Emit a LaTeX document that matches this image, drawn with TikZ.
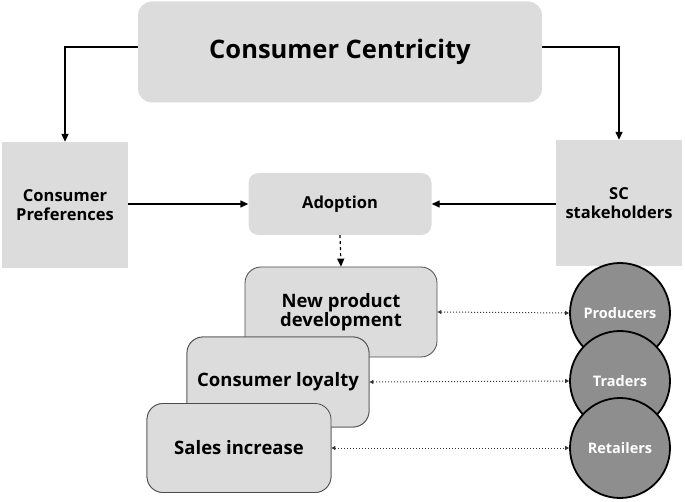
\documentclass[tikz,border=0pt]{standalone}
\usepackage{fontspec}
\setmainfont{Open Sans}
\usetikzlibrary{arrows.meta}
\definecolor{lg}{HTML}{DCDCDC}
\definecolor{cg}{HTML}{8E8E8E}
\begin{document}
\begin{tikzpicture}[x=1pt,y=-1pt,
  box/.style={fill=lg,draw=none,align=center,font=\bfseries\fontsize{16.5}{19}\selectfont,inner sep=0},
  rbox/.style={box,rounded corners=14pt},
  card/.style={fill=lg,draw=black!70,line width=0.8pt,rounded corners=16pt,align=center,inner sep=0,font=\bfseries\fontsize{18.5}{19}\selectfont},
  circ/.style={circle,fill=cg,draw=black,line width=1.8pt,minimum size=100pt,inner sep=0,text=white,font=\bfseries\fontsize{14.5}{16}\selectfont},
  arr/.style={-{Triangle[length=8pt,width=7pt]},line width=1.4pt},
  dot/.style={{Triangle[length=4pt,width=4pt]}-{Triangle[length=4pt,width=4pt]},dotted,line width=1pt,black!80}]
\useasboundingbox (0,0) rectangle (685,502);
\node[rbox,minimum width=404pt,minimum height=101pt,font=\bfseries\fontsize{25.5}{28}\selectfont] (cc) at (340,52) {Consumer Centricity};
\node[box,minimum width=126pt,minimum height=126pt] (cp) at (65,205) {Consumer\\Preferences};
\node[box,minimum width=126pt,minimum height=126pt] (sc) at (619,203) {SC\\stakeholders};
\node[rbox,minimum width=183pt,minimum height=62pt,rounded corners=10pt] (ad) at (340,204) {Adoption};
\draw[arr] (cc.west |- 0,47) -| (cp.north);
\draw[arr] (cc.east |- 0,47) -| (sc.north);
\draw[arr] (cp.east |- 0,204) -- (ad.west);
\draw[arr] (sc.west |- 0,204) -- (ad.east);
\node[card,minimum width=192pt,minimum height=90pt] (np) at (341,312) {New product\\development};
\node[card,minimum width=182pt,minimum height=90pt] (cl) at (278,382) {Consumer loyalty};
\node[card,minimum width=184pt,minimum height=89pt] (si) at (239,448) {Sales increase};
\draw[arr,dashed,line width=1.2pt] (ad.south) -- (np.north);
\node[circ] (pr) at (620,313) {Producers};
\node[circ] (tr) at (620,381) {Traders};
\node[circ] (re) at (620,448) {Retailers};
\node[card,minimum width=182pt,minimum height=90pt] at (278,382) {Consumer loyalty};
\node[card,minimum width=184pt,minimum height=89pt] at (239,448) {Sales increase};
\draw[dot] (np.east) -- (pr.west);
\draw[dot] (cl.east) -- (tr.west);
\draw[dot] (si.east) -- (re.west);
\end{tikzpicture}
\end{document}
